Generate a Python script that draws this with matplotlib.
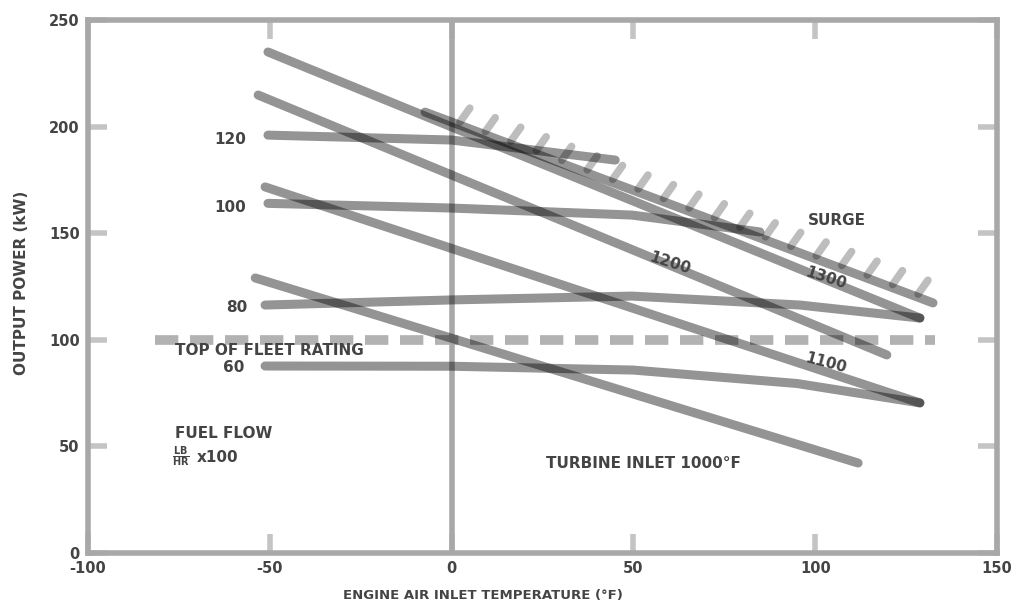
import numpy as np
import matplotlib
matplotlib.use('Agg')
import matplotlib.pyplot as plt

# ---- data (x: inlet temp degF, y: output power) ----
fuel_levels = ['120', '100', '80', '60']
fuel_x = [[-50.5, 0, 45],
          [-50.5, 0, 49.6, 84.8],
          [-51.3, 0, 49.6, 95.8, 128.8],
          [-51.3, 0, 50, 95, 128.8]]
fuel_y = [[196.0, 193.7, 184.3],
          [164.0, 161.8, 158.5, 150.6],
          [116.3, 118.7, 120.5, 116.3, 110.2],
          [87.7, 87.6, 85.8, 79.5, 70.4]]

tit_labels = ['1300', '1200', '1100', '1000']
tit_x = [[-50.5, 128.8], [-53.2, 119.7], [-51.3, 128.8], [-54.0, 111.8]]
tit_y = [[235.0, 110.2], [214.8, 92.9], [171.7, 70.4], [129.0, 42.2]]

surge_x = [-7.3, 132.4]
surge_y = [206.8, 117.3]
hatch_x = np.arange(2.3, 130, 7.0)  # hatch tick spacing along the surge line

fleet_y = 100
fleet_x = [-81.6, 133.0]

xticks = [-100, -50, 0, 50, 100, 150]
yticks = [0, 50, 100, 150, 200, 250]

INK = '#444444'
FRAME = '#a8a8a8'
LINE = (0, 0, 0, 0.42)
FW = 'bold'

fig = plt.figure(figsize=(10.12, 6.07), dpi=100)
ax = fig.add_axes([88 / 1012, 1 - 553 / 607, 909 / 1012, 533 / 607])
ax.set_xlim(-100, 150); ax.set_ylim(0, 250)

for s in ax.spines.values():
    s.set_color(FRAME); s.set_linewidth(4)
ax.axvline(0, color=FRAME, lw=4, zorder=2.6)

ax.set_xticks(xticks); ax.set_yticks(yticks)
ax.set_xticklabels([str(v) for v in xticks], fontsize=10.5, fontweight=FW, color=INK)
ax.set_yticklabels([str(v) for v in yticks], fontsize=10.5, fontweight=FW, color=INK)
ax.tick_params(axis='both', which='both', direction='in', length=14, width=4, color='#c4c4c4',
               top=True, right=True, pad=6)

# constant fuel flow lines
for xs, ys in zip(fuel_x, fuel_y):
    ax.plot(xs, ys, color=LINE, lw=6.5, solid_capstyle='round', zorder=3)
# turbine inlet temperature lines
for xs, ys in zip(tit_x, tit_y):
    ax.plot(xs, ys, color=LINE, lw=6.5, solid_capstyle='round', zorder=3)
# surge line with hatching
ax.plot(surge_x, surge_y, color=LINE, lw=6.5, solid_capstyle='round', zorder=3)
hy = np.interp(hatch_x, surge_x, surge_y)
for hx0, hy0 in zip(hatch_x, hy):
    ax.plot([hx0, hx0 + 2.7], [hy0 + 1.5, hy0 + 8.0], color=(0, 0, 0, 0.26), lw=5.5,
            solid_capstyle='round', zorder=3)
# fleet rating dashed line
ax.plot(fleet_x, [fleet_y, fleet_y], color=(0, 0, 0, 0.3), lw=7, dashes=(2.4, 1.2), zorder=2)

tk = dict(fontsize=11, fontweight=FW, color=INK, zorder=5)
ax.text(-61, 194, fuel_levels[0], ha='center', va='center', **tk)
ax.text(-61, 162, fuel_levels[1], ha='center', va='center', **tk)
ax.text(-59, 115, fuel_levels[2], ha='center', va='center', **tk)
ax.text(-60, 87, fuel_levels[3], ha='center', va='center', **tk)
ax.text(-76, 95, 'TOP OF FLEET RATING', ha='left', va='center', **tk)
ax.text(-76, 56, 'FUEL FLOW', ha='left', va='center', **tk)
ax.text(-74.5, 45, r'$\frac{\mathbf{LB}}{\mathbf{HR}}$', ha='center', va='center', fontsize=10, color=INK)
ax.text(-70, 45, 'x100', ha='left', va='center', **tk)
ax.text(103, 129, tit_labels[0], ha='center', va='center', rotation=-18, **tk)
ax.text(60, 136, tit_labels[1], ha='center', va='center', rotation=-18, **tk)
ax.text(103, 89, tit_labels[2], ha='center', va='center', rotation=-15, **tk)
ax.text(106, 156, 'SURGE', ha='center', va='center', **tk)
ax.text(26, 42, 'TURBINE INLET 1000°F', ha='left', va='center', **tk)

fig.text(343 / 1012, 1 - 596 / 607, 'ENGINE AIR INLET TEMPERATURE (°F)', ha='left', va='center',
         fontsize=9.5, fontweight=FW, color=INK)
fig.text(22 / 1012, 1 - 283 / 607, 'OUTPUT POWER (kW)', rotation=90, ha='center', va='center',
         fontsize=11, fontweight=FW, color=INK)

fig.savefig('out.png', dpi=100, facecolor='white')
